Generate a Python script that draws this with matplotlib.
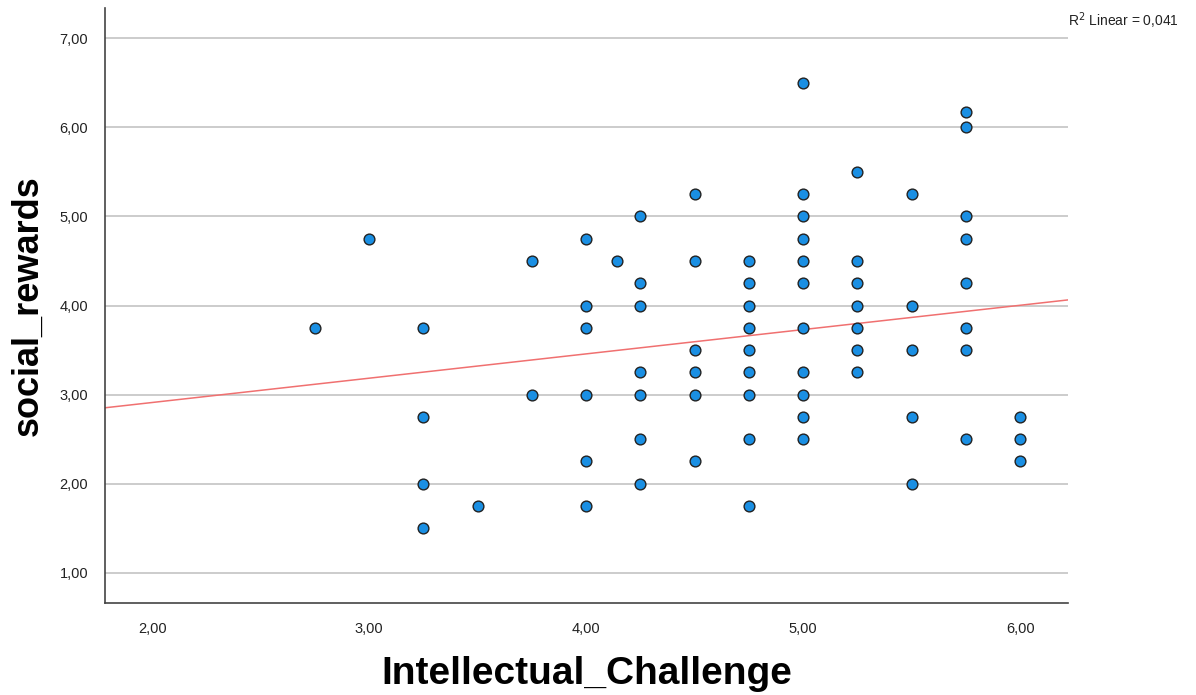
import matplotlib.pyplot as plt
import numpy as np

# scatter data
x_vals = [2.75,
          3.00,
          3.25, 3.25, 3.25, 3.25,
          3.50,
          3.75, 3.75,
          4.00, 4.00, 4.00, 4.00, 4.00, 4.00,
          4.14,
          4.25, 4.25, 4.25, 4.25, 4.25, 4.25, 4.25,
          4.50, 4.50, 4.50, 4.50, 4.50, 4.50,
          4.75, 4.75, 4.75, 4.75, 4.75, 4.75, 4.75, 4.75, 4.75,
          5.00, 5.00, 5.00, 5.00, 5.00, 5.00, 5.00, 5.00, 5.00, 5.00, 5.00,
          5.25, 5.25, 5.25, 5.25, 5.25, 5.25, 5.25,
          5.50, 5.50, 5.50, 5.50, 5.50,
          5.75, 5.75, 5.75, 5.75, 5.75, 5.75, 5.75, 5.75,
          6.00, 6.00, 6.00]
y_vals = [3.75,
          4.75,
          3.75, 2.75, 2.00, 1.50,
          1.75,
          4.50, 3.00,
          4.75, 4.00, 3.75, 3.00, 2.25, 1.75,
          4.50,
          5.00, 4.25, 4.00, 3.25, 3.00, 2.50, 2.00,
          5.25, 4.50, 3.50, 3.25, 3.00, 2.25,
          4.50, 4.25, 4.00, 3.75, 3.50, 3.25, 3.00, 2.50, 1.75,
          6.50, 5.25, 5.00, 4.75, 4.50, 4.25, 3.75, 3.25, 3.00, 2.75, 2.50,
          5.50, 4.50, 4.25, 4.00, 3.75, 3.50, 3.25,
          5.25, 4.00, 3.50, 2.75, 2.00,
          6.17, 6.00, 5.00, 4.75, 4.25, 3.75, 3.50, 2.50,
          2.75, 2.50, 2.25]

# fit line as shown in the chart
intercept = 2.365
slope = 0.273
r2_text = "R$^2$ Linear = 0,041"

x_ticks = [2, 3, 4, 5, 6]
y_ticks = [1, 2, 3, 4, 5, 6, 7]

fig = plt.figure(figsize=(11.96, 6.95), dpi=100)
ax = fig.add_axes([0.0878, 0.1324, 0.8052, 0.856])

xmin, xmax = 1.783, 6.22
ax.set_xlim(xmin, xmax)
ax.set_ylim(0.66, 7.34)

for yt in y_ticks:
    ax.axhline(yt, color='#c8c8c8', linewidth=1.3, zorder=1)

xl = np.array([xmin, xmax])
ax.plot(xl, intercept + slope * xl, color='#f07070', linewidth=1.1, zorder=2)

ax.scatter(x_vals, y_vals, s=60, facecolor='#1a8fe3', edgecolor='#222222',
           linewidth=1.0, zorder=3)

ax.set_xticks(x_ticks)
ax.set_yticks(y_ticks)
ax.set_xticklabels([("%.2f" % v).replace('.', ',') for v in x_ticks],
                   fontsize=10.5, family='Liberation Sans', color='#222222')
ax.set_yticklabels([("%.2f" % v).replace('.', ',') for v in y_ticks],
                   fontsize=10.5, family='Liberation Sans', color='#222222')
ax.tick_params(length=0, pad=12)
ax.tick_params(axis='x', pad=14)

for s in ['top', 'right']:
    ax.spines[s].set_visible(False)
for s in ['left', 'bottom']:
    ax.spines[s].set_color('#444444')
    ax.spines[s].set_linewidth(1.2)

ax.set_xlabel("Intellectual_Challenge", fontsize=28, fontweight='bold',
              family='Liberation Sans', labelpad=14)
ax.set_ylabel("social_rewards", fontsize=26, fontweight='bold',
              family='Liberation Sans', labelpad=10)

fig.text(0.893, 0.963, r2_text, fontsize=10, family='Liberation Sans', color='#222222')

fig.savefig("out.png", dpi=100)
